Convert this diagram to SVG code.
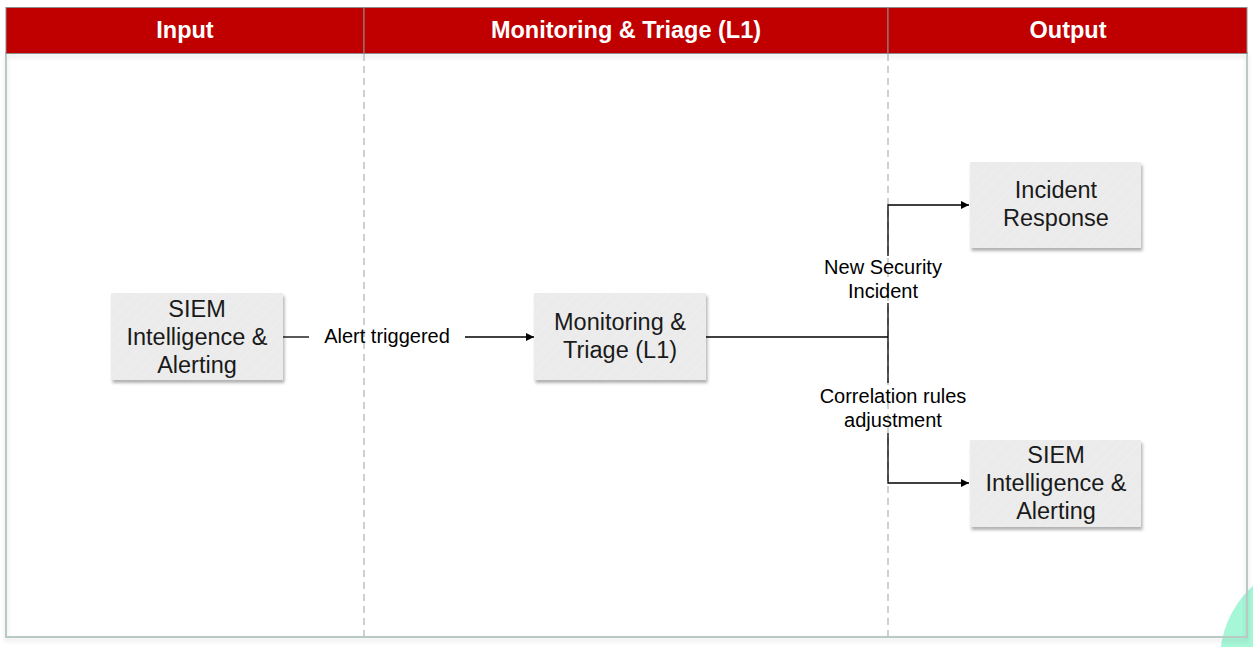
<svg xmlns="http://www.w3.org/2000/svg" width="1253" height="647" viewBox="0 0 1253 647">
<defs>
<style>
.hdr{fill:#c00000;stroke:#8c8c8c;stroke-width:1}
.htxt{font-family:"Liberation Sans",Arial,sans-serif;font-size:23.5px;font-weight:bold;fill:#ffffff;text-anchor:middle}
.lane{fill:none;stroke:#b9c9c4;stroke-width:2}
.div{stroke:#a9b5b2;stroke-width:1.2;stroke-dasharray:7 5;fill:none}
.node{fill:#ebebeb;filter:url(#sh)}
.hatch{fill:url(#hp)}
.ntxt{font-family:"Liberation Sans",Arial,sans-serif;font-size:23.5px;fill:#1a1a1a;text-anchor:middle}
.ltxt{font-family:"Liberation Sans",Arial,sans-serif;font-size:20px;fill:#000;text-anchor:middle}
.edge{fill:none;stroke:#000;stroke-width:1.3}
</style>
<filter id="sh" x="-10%" y="-10%" width="125%" height="130%">
<feDropShadow dx="1.5" dy="3" stdDeviation="1.5" flood-color="#000" flood-opacity="0.3"/>
</filter>
<filter id="fsh" x="-2%" y="-2%" width="104%" height="106%">
<feDropShadow dx="0" dy="3" stdDeviation="2" flood-color="#000" flood-opacity="0.12"/>
</filter>
<pattern id="hp" width="8" height="8" patternUnits="userSpaceOnUse" patternTransform="rotate(45)">
<line x1="0" y1="0" x2="0" y2="8" stroke="#ffffff" stroke-width="1" opacity="0.35"/>
</pattern>
<marker id="arr" viewBox="0 0 10 10" refX="10" refY="5" markerWidth="9" markerHeight="8" markerUnits="userSpaceOnUse" orient="auto">
<path d="M0,0 L10,5 L0,10 z" fill="#000"/>
</marker>
</defs>
<rect width="1253" height="647" fill="#ffffff"/>
<circle cx="1320" cy="660" r="100" fill="#a6f6d8"/>
<g id="lanes">
<rect x="6" y="53" width="1241" height="584" fill="#ffffff" class="lane" filter="url(#fsh)"/>
<rect class="hdr" x="6" y="7.5" width="358" height="46"/>
<rect class="hdr" x="364" y="7.5" width="524" height="46"/>
<rect class="hdr" x="888" y="7.5" width="359" height="46"/>
<text class="htxt" x="185" y="38">Input</text>
<text class="htxt" x="626" y="38">Monitoring &amp; Triage (L1)</text>
<text class="htxt" x="1068" y="38">Output</text>
<line class="div" x1="364" y1="54" x2="364" y2="636"/>
<line class="div" x1="888" y1="54" x2="888" y2="636"/>
</g>
<g id="connectors">
<path class="edge" d="M283,337 H309"/>
<path class="edge" d="M465,337 H534" marker-end="url(#arr)"/>
<text class="ltxt" x="387" y="343">Alert triggered</text>
<path class="edge" d="M706,337 H888"/>
<path class="edge" d="M888,256 V205 H969" marker-end="url(#arr)"/>
<path class="edge" d="M888,303 V383"/>
<path class="edge" d="M888,433 V483 H969" marker-end="url(#arr)"/>
<text class="ltxt" x="883" y="274">New Security</text>
<text class="ltxt" x="883" y="298">Incident</text>
<text class="ltxt" x="893" y="403">Correlation rules</text>
<text class="ltxt" x="893" y="427">adjustment</text>
</g>
<g id="siem-in">
<rect class="node" x="111" y="293" width="172" height="87"/>
<rect class="hatch" x="111" y="293" width="172" height="87"/>
<text class="ntxt" x="197" y="317">SIEM</text>
<text class="ntxt" x="197" y="345">Intelligence &amp;</text>
<text class="ntxt" x="197" y="373">Alerting</text>
</g>
<g id="monitoring">
<rect class="node" x="534" y="293" width="172" height="87"/>
<rect class="hatch" x="534" y="293" width="172" height="87"/>
<text class="ntxt" x="620" y="330">Monitoring &amp;</text>
<text class="ntxt" x="620" y="358">Triage (L1)</text>
</g>
<g id="incident-response">
<rect class="node" x="970" y="162" width="171" height="86"/>
<rect class="hatch" x="970" y="162" width="171" height="86"/>
<text class="ntxt" x="1056" y="198">Incident</text>
<text class="ntxt" x="1056" y="226">Response</text>
</g>
<g id="siem-out">
<rect class="node" x="970" y="440" width="171" height="87"/>
<rect class="hatch" x="970" y="440" width="171" height="87"/>
<text class="ntxt" x="1056" y="463">SIEM</text>
<text class="ntxt" x="1056" y="491">Intelligence &amp;</text>
<text class="ntxt" x="1056" y="519">Alerting</text>
</g>
</svg>
